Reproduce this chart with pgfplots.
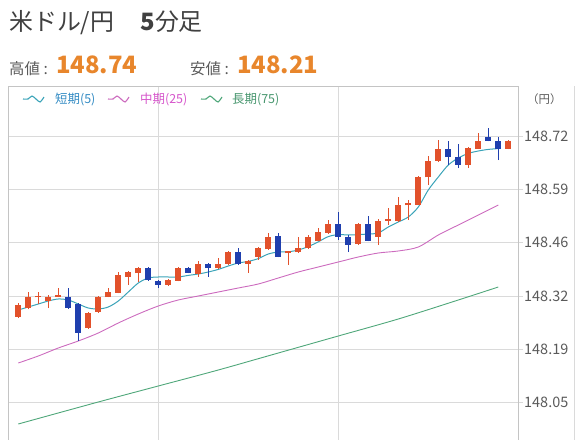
\documentclass[border=0pt]{standalone}
\usepackage{fontspec}
\setmainfont{Noto Sans CJK JP}
\usepackage{pgfplots}
\usepackage{pgfplotstable}
\pgfplotsset{compat=1.18}

\definecolor{upc}{HTML}{E2512B}
\definecolor{dnc}{HTML}{1F3FAE}
\definecolor{ma5}{HTML}{3AA3B8}
\definecolor{ma25}{HTML}{CC6BBE}
\definecolor{ma75}{HTML}{4FA77A}
\definecolor{gridc}{HTML}{DADADA}
\definecolor{framec}{HTML}{C4C4C4}
\definecolor{txt}{HTML}{5A5A5A}
\definecolor{hl}{HTML}{E8862C}

% rising candles: index open high low close
\pgfplotstableread{
i o h l c
0 148.271 148.305 148.267 148.301
1 148.292 148.333 148.289 148.321
2 148.319 148.333 148.302 148.322
3 148.311 148.324 148.292 148.321
4 148.321 148.342 148.319 148.325
7 148.242 148.282 148.240 148.281
8 148.283 148.322 148.280 148.321
9 148.321 148.342 148.319 148.333
10 148.331 148.383 148.329 148.374
11 148.371 148.385 148.350 148.383
12 148.379 148.394 148.358 148.392
15 148.350 148.364 148.348 148.363
16 148.361 148.394 148.359 148.392
18 148.377 148.410 148.370 148.402
20 148.392 148.417 148.390 148.402
21 148.403 148.434 148.400 148.432
23 148.403 148.413 148.381 148.411
24 148.421 148.444 148.413 148.442
25 148.439 148.481 148.438 148.471
27 148.429 148.435 148.400 148.434
28 148.432 148.471 148.430 148.443
29 148.442 148.474 148.440 148.471
30 148.460 148.492 148.459 148.482
31 148.480 148.513 148.478 148.502
34 148.452 148.504 148.450 148.502
36 148.471 148.515 148.450 148.510
37 148.510 148.542 148.500 148.514
38 148.510 148.571 148.508 148.550
39 148.549 148.563 148.513 148.554
40 148.551 148.622 148.550 148.621
41 148.619 148.672 148.600 148.661
42 148.660 148.713 148.657 148.690
45 148.650 148.694 148.642 148.692
46 148.691 148.730 148.690 148.711
49 148.691 148.713 148.689 148.711
}\upbars

% falling candles
\pgfplotstableread{
i o h l c
5 148.321 148.342 148.290 148.292
6 148.302 148.304 148.211 148.231
13 148.392 148.396 148.360 148.362
14 148.361 148.362 148.342 148.350
17 148.392 148.394 148.379 148.381
19 148.402 148.404 148.371 148.392
22 148.432 148.442 148.400 148.403
26 148.472 148.481 148.419 148.421
32 148.502 148.533 148.463 148.471
33 148.471 148.474 148.432 148.451
35 148.502 148.522 148.459 148.460
43 148.691 148.710 148.650 148.670
44 148.671 148.703 148.642 148.651
47 148.721 148.742 148.709 148.711
48 148.711 148.721 148.662 148.691
}\downbars

\pgfplotstableread{
i v
0 148.2875
1 148.295
2 148.3025
3 148.310
4 148.315
5 148.3125
6 148.3025
7 148.2925
8 148.290
9 148.295
10 148.310
11 148.3325
12 148.355
13 148.3675
14 148.370
15 148.370
16 148.370
17 148.374
18 148.3775
19 148.3825
20 148.389
21 148.3975
22 148.405
23 148.409
24 148.416
25 148.4275
26 148.4325
27 148.433
28 148.4375
29 148.446
30 148.458
31 148.471
32 148.476
33 148.475
34 148.476
35 148.4775
36 148.480
37 148.495
38 148.5075
39 148.520
40 148.545
41 148.5875
42 148.620
43 148.650
44 148.6675
45 148.679
46 148.685
47 148.689
48 148.691
}\maA

\pgfplotstableread{
i v
0 148.155
2 148.1725
4 148.1925
6 148.210
8 148.230
10 148.255
12 148.2775
14 148.2975
16 148.3125
18 148.3225
20 148.3325
22 148.3425
24 148.3525
26 148.3675
28 148.3825
30 148.395
32 148.4075
34 148.420
36 148.430
38 148.435
40 148.445
42 148.475
44 148.500
46 148.525
48 148.550
}\maB

\pgfplotstableread{
i v
0 148.0025
8 148.0575
14 148.0975
20 148.1375
26 148.180
32 148.2225
38 148.265
44 148.3125
48 148.345
}\maC

\begin{document}
\begin{tikzpicture}
\begin{axis}[
  name=main, anchor=north west, at={(8bp,-86bp)},
  scale only axis, width=510bp, height=360bp,
  xmin=-1.03, xmax=49.97, ymin=147.9475, ymax=148.8475,
  xtick={14,32}, xticklabels={}, xtick pos=lower,
  ytick={148.056,148.1893,148.3226,148.4559,148.5892,148.7225},
  yticklabels={148.05,148.19,148.32,148.46,148.59,148.72},
  ytick pos=right, yticklabel pos=right,
  tick align=outside, major tick length=5bp,
  xmajorgrids, ymajorgrids,
  grid style={gridc, line width=0.8bp},
  tick style={gridc, line width=0.8bp},
  axis line style={framec, line width=1bp},
  yticklabel style={font=\fontsize{14.5}{15}\selectfont, text=txt, inner sep=1bp},
]
% moving averages
\addplot[ma75, line width=0.9bp, smooth, mark=none] table[x=i, y=v] {\maC};
\addplot[ma25, line width=0.9bp, smooth, mark=none] table[x=i, y=v] {\maB};
\addplot[ma5, line width=1bp, smooth, mark=none] table[x=i, y=v] {\maA};
% wicks
\addplot[draw=none, mark=none, error bars/.cd, y dir=plus, y explicit, error mark=none,
  error bar style={draw=upc, solid, line width=1bp}]
  table[x=i, y=l, y error expr=\thisrow{h}-\thisrow{l}] {\upbars};
\addplot[draw=none, mark=none, error bars/.cd, y dir=plus, y explicit, error mark=none,
  error bar style={draw=dnc, solid, line width=1bp}]
  table[x=i, y=l, y error expr=\thisrow{h}-\thisrow{l}] {\downbars};
% bodies
\addplot[draw=none, mark=none, error bars/.cd, y dir=plus, y explicit, error mark=none,
  error bar style={draw=upc, solid, line width=6bp}]
  table[x=i, y=o, y error expr=\thisrow{c}-\thisrow{o}] {\upbars};
\addplot[draw=none, mark=none, error bars/.cd, y dir=plus, y explicit, error mark=none,
  error bar style={draw=dnc, solid, line width=6bp}]
  table[x=i, y=c, y error expr=\thisrow{o}-\thisrow{c}] {\downbars};
\end{axis}

% header
\node[anchor=base west, inner sep=0, text=black!75, font=\fontsize{24}{28}\selectfont]
  at (9bp,-30bp) {米ドル/円\hspace{1.1em}\textbf{5}分足};
\node[anchor=base west, inner sep=0, text=txt, font=\fontsize{15.5}{18}\selectfont]
  at (9bp,-74bp) {高値 :};
\node[anchor=base west, inner sep=0, text=hl, font=\fontsize{24}{28}\selectfont\bfseries]
  at (56bp,-73bp) {148.74};
\node[anchor=base west, inner sep=0, text=txt, font=\fontsize{15.5}{18}\selectfont]
  at (190bp,-74bp) {安値 :};
\node[anchor=base west, inner sep=0, text=hl, font=\fontsize{24}{28}\selectfont\bfseries]
  at (237bp,-73bp) {148.21};
\node[anchor=base west, inner sep=0, text=txt, font=\fontsize{11.5}{13}\selectfont]
  at (527bp,-103bp) {（円）};

% legend
\foreach \xx/\cc in {23/ma5, 108/ma25, 201/ma75} {
  \draw[\cc, line width=1.1bp] plot[smooth] coordinates {
    (\xx bp,-99bp) (\xx bp+5bp,-99bp) (\xx bp+9bp,-96bp) (\xx bp+13bp,-99bp)
    (\xx bp+17bp,-102bp) (\xx bp+21bp,-97bp)};
}
\node[anchor=base west, inner sep=0, text=ma5!85!blue, font=\fontsize{12.5}{14}\selectfont]
  at (55bp,-103bp) {短期(5)};
\node[anchor=base west, inner sep=0, text=ma25!80!magenta, font=\fontsize{12.5}{14}\selectfont]
  at (140bp,-103bp) {中期(25)};
\node[anchor=base west, inner sep=0, text=ma75!90!black, font=\fontsize{12.5}{14}\selectfont]
  at (232bp,-103bp) {長期(75)};

\draw[gridc, line width=0.8bp] (574bp,-86bp) -- (574bp,-440bp);

\pgfresetboundingbox
\path[use as bounding box] (0,0) rectangle (576bp,-440bp);
\end{tikzpicture}
\end{document}
